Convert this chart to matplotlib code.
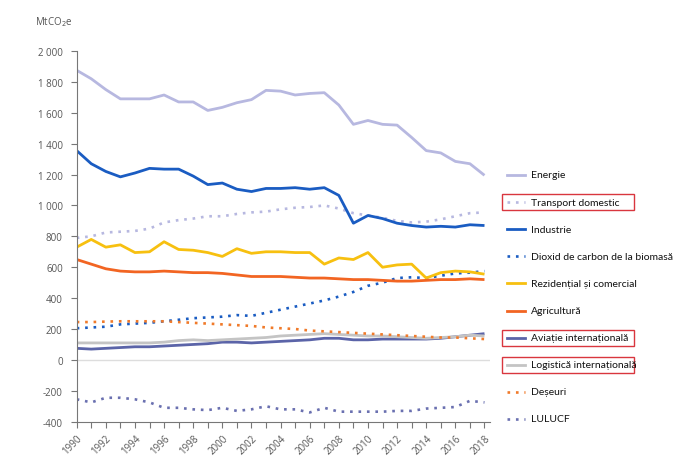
import numpy as np
import matplotlib.pyplot as plt
from matplotlib.lines import Line2D
from matplotlib.patches import Rectangle

years = list(range(1990, 2019))

energie = [1875, 1820, 1750, 1690, 1690, 1690, 1715, 1670, 1670, 1615, 1635, 1665, 1685, 1745, 1740,
           1715, 1725, 1730, 1650, 1525, 1550, 1525, 1520, 1440, 1355, 1340, 1285, 1270, 1195]
transport = [790, 800, 825, 830, 835, 850, 890, 905, 915, 930, 930, 945, 955, 960, 975,
             985, 990, 1000, 980, 950, 935, 920, 900, 890, 895, 910, 930, 950, 955]
industrie = [1355, 1270, 1220, 1185, 1210, 1240, 1235, 1235, 1190, 1135, 1145, 1105, 1090, 1110, 1110,
             1115, 1105, 1115, 1065, 885, 935, 915, 885, 870, 860, 865, 860, 875, 870]
biomasa = [205, 210, 215, 230, 235, 240, 250, 260, 270, 275, 280, 290, 285, 305, 325,
           345, 365, 385, 410, 440, 480, 500, 530, 535, 530, 545, 560, 565, 575]
rezidential = [730, 780, 730, 745, 695, 700, 765, 715, 710, 695, 670, 720, 690, 700, 700,
               695, 695, 620, 660, 650, 695, 600, 615, 620, 530, 565, 575, 570, 555]
agricultura = [650, 620, 590, 575, 570, 570, 575, 570, 565, 565, 560, 550, 540, 540, 540,
               535, 530, 530, 525, 520, 520, 515, 510, 510, 515, 520, 520, 525, 520]
aviatie = [75, 70, 75, 80, 85, 85, 90, 95, 100, 105, 115, 115, 110, 115, 120,
           125, 130, 140, 140, 130, 130, 135, 135, 135, 135, 140, 150, 160, 170]
logistica = [110, 110, 110, 110, 110, 110, 115, 125, 130, 125, 130, 135, 140, 145, 155,
             160, 165, 170, 165, 160, 155, 155, 150, 145, 140, 145, 150, 160, 155]
deseuri = [245, 245, 248, 250, 250, 250, 250, 245, 240, 235, 230, 225, 220, 210, 205,
           200, 190, 185, 180, 175, 170, 165, 160, 155, 150, 145, 145, 140, 135]
lulucf = [-255, -275, -245, -245, -255, -275, -310, -310, -320, -325, -310, -330, -320, -300, -320,
          -320, -340, -310, -335, -335, -335, -335, -330, -330, -315, -310, -305, -265, -275]

dot = (0, (1, 2.2))
series = [
    ("Energie", energie, "#b7b8e0", "-", False),
    ("Transport domestic", transport, "#b7b8e0", dot, True),
    ("Industrie", industrie, "#1a5cc2", "-", False),
    ("Dioxid de carbon de la biomasă", biomasa, "#1a5cc2", dot, False),
    ("Rezidențial și comercial", rezidential, "#f7c010", "-", False),
    ("Agricultură", agricultura, "#f26522", "-", False),
    ("Aviație internațională", aviatie, "#5b64a8", "-", True),
    ("Logistică internațională", logistica, "#c4c4c4", "-", True),
    ("Deșeuri", deseuri, "#f07a2a", dot, False),
    ("LULUCF", lulucf, "#6a70b0", dot, False),
]

plt.rcParams['font.family'] = ['Open Sans', 'DejaVu Sans']

fig = plt.figure(figsize=(6.94, 4.64), dpi=100)
ax = fig.add_axes([0.1105, 0.089, 0.596, 0.799])

ax.axhline(0, color="#dddddd", lw=1, zorder=1)
for name, vals, col, ls, boxed in series:
    ax.plot(years, vals, color=col, ls=ls, lw=2.0 if ls == "-" else 1.9,
            solid_capstyle="butt", zorder=2)

ax.set_xlim(1990, 2018.4)
ax.set_ylim(-400, 2000)
ax.set_yticks(range(-400, 2001, 200))
ax.set_yticklabels([f"{v:,}".replace(",", " ") for v in range(-400, 2001, 200)])
ax.set_xticks(years)
ax.set_xticklabels([str(y) if y % 2 == 0 else "" for y in years], rotation=45,
                   ha="right", rotation_mode="anchor")
for s in ["top", "right"]:
    ax.spines[s].set_visible(False)
for s in ["left", "bottom"]:
    ax.spines[s].set_color("#777777")
ax.tick_params(colors="#777777", labelcolor="#555555", labelsize=7, length=4)
ax.tick_params(axis="y", pad=6)

fig.text(0.05, 0.945, "MtCO$_2$e", fontsize=7, color="#555555")

# legenda desenata manual
y0 = 176
dy = 27.1
for i, (name, vals, col, ls, boxed) in enumerate(series):
    yp = 1 - (y0 + i * dy) / 464
    fig.add_artist(Line2D([507 / 694, 525 / 694], [yp, yp], color=col, ls=ls,
                          lw=2.0 if ls == "-" else 1.9, transform=fig.transFigure))
    fig.text(531 / 694, yp, name, fontsize=7.5, va="center", color="#111111",
             family=["Lato", "DejaVu Sans"])
    if boxed:
        fig.add_artist(Rectangle((502 / 694, yp - 8 / 464), 132 / 694, 16 / 464,
                                 fill=False, ec="#d9363e", lw=1, transform=fig.transFigure))

fig.savefig("out.png", dpi=100)
